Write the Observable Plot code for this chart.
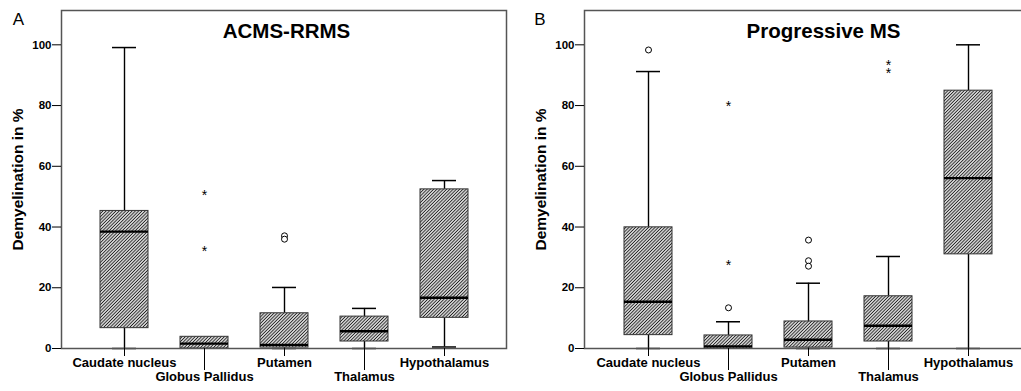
<!DOCTYPE html>
<html>
<head>
<meta charset="utf-8">
<script src="https://cdn.jsdelivr.net/npm/d3@7"></script>
<script src="https://cdn.jsdelivr.net/npm/@observablehq/plot@0.6"></script>
<style>
  html, body { margin: 0; padding: 0; background: #fff; }
  body { width: 1021px; height: 391px; overflow: hidden; position: relative; font-family: "Liberation Sans", Arial, sans-serif; }
  .panel { position: absolute; top: 0; }
  .panel svg { display: block; max-width: none !important; }
</style>
</head>
<body>
<div id="pa" class="panel" style="left:0px;width:510px"></div>
<div id="pb" class="panel" style="left:510px;width:530px"></div>
<script>
const categories = ["Caudate nucleus", "Globus Pallidus", "Putamen", "Thalamus", "Hypothalamus"];
const yTicks = [0, 20, 40, 60, 80, 100];

// Panel A: ACMS-RRMS
const aMin    = [0,    0,    0,    0,    0.5];
const aQ1     = [6.7,  0,    0.3,  2.3,  10.1];
const aMedian = [38.5, 1.6,  1.2,  5.7,  16.7];
const aQ3     = [45.3, 3.85, 11.6, 10.5, 52.4];
const aMax    = [99.1, 3.85, 20.1, 13.2, 55.3];
const aCircleCat = ["Putamen", "Putamen"];
const aCircleVal = [37.1, 36.0];
const aStarCat = ["Globus Pallidus", "Globus Pallidus"];
const aStarVal = [51.5, 33.0];

// Panel B: Progressive MS
const bMin    = [0,    0,   0,    0,    0];
const bQ1     = [4.4,  0,   0.3,  2.3,  31.0];
const bMedian = [15.4, 0.7, 2.9,  7.5,  56.1];
const bQ3     = [39.9, 4.3, 8.9,  17.2, 84.9];
const bMax    = [91.2, 8.8, 21.5, 30.3, 100];
const bCircleCat = ["Caudate nucleus", "Globus Pallidus", "Putamen", "Putamen", "Putamen"];
const bCircleVal = [98.3, 13.4, 35.7, 28.9, 27.1];
const bStarCat = ["Globus Pallidus", "Globus Pallidus", "Thalamus", "Thalamus"];
const bStarVal = [80.7, 28.6, 94.2, 91.8];

const FONT = "Liberation Sans, Arial, sans-serif";

function makePanel(cfg) {
  const boxes = categories.map((c, i) => ({
    cat: c, min: cfg.min[i], q1: cfg.q1[i], median: cfg.median[i], q3: cfg.q3[i], max: cfg.max[i]
  }));
  const circles = cfg.circleCat.map((c, i) => ({cat: c, v: cfg.circleVal[i]}));
  const stars = cfg.starCat.map((c, i) => ({cat: c, v: cfg.starVal[i]}));
  const hatchId = cfg.hatchId;

  const svg = Plot.plot({
    width: cfg.width,
    height: 391,
    marginTop: 10,
    marginBottom: 43,
    marginLeft: cfg.marginLeft,
    marginRight: cfg.marginRight,
    style: {fontFamily: FONT, background: "white", color: "black", overflow: "visible"},
    x: {type: "band", domain: categories, paddingInner: 0.4, paddingOuter: 0.47, axis: null},
    y: {domain: [0, 111.3], axis: null},
    marks: [
      // whiskers
      Plot.ruleX(boxes, {x: "cat", y1: "q3", y2: "max", stroke: "black", strokeWidth: 1.4}),
      Plot.ruleX(boxes, {x: "cat", y1: "min", y2: "q1", stroke: "black", strokeWidth: 1.4}),
      Plot.tickY(boxes.filter(d => d.max > d.q3), {x: "cat", y: "max", insetLeft: 12, insetRight: 12, stroke: "black", strokeWidth: 1.5}),
      Plot.tickY(boxes.filter(d => d.min < d.q1), {x: "cat", y: "min", insetLeft: 12, insetRight: 12, stroke: "black", strokeWidth: 1.5}),
      // boxes
      Plot.barY(boxes, {x: "cat", y1: "q1", y2: "q3", fill: `url(#${hatchId})`, stroke: "#333", strokeWidth: 1}),
      Plot.tickY(boxes, {x: "cat", y: "median", stroke: "black", strokeWidth: 2.4}),
      // outliers
      Plot.dot(circles, {x: "cat", y: "v", r: 3, stroke: "black", strokeWidth: 1, fill: "white"}),
      Plot.text(stars, {x: "cat", y: "v", text: () => "*", fontSize: 14, lineAnchor: "top", dy: -2, fill: "black"}),
      // frame and axes
      Plot.frame({stroke: "#555", strokeWidth: 1.5}),
      Plot.axisY({ticks: yTicks, tickSize: 9, tickPadding: 1, fontSize: 11.5, fontWeight: "bold", label: null, stroke: "black"}),
      Plot.axisX({ticks: [categories[0], categories[2], categories[4]], tickSize: 8, tickPadding: 1.5, fontSize: 13, fontWeight: "bold", label: null, stroke: "black"}),
      Plot.axisX({ticks: [categories[1], categories[3]], tickSize: 22, tickPadding: 1, fontSize: 13, fontWeight: "bold", label: null, stroke: "black"}),
      // y label
      Plot.text(["Demyelination in %"], {frameAnchor: "left", dx: -43, rotate: -90, fontSize: 15.5, fontWeight: "bold", textAnchor: "middle", lineAnchor: "middle", fill: "black"}),
      // panel letter
      Plot.text([cfg.letter], {frameAnchor: "top-left", dx: cfg.letterDx, dy: 9, fontSize: 17, textAnchor: "middle", lineAnchor: "middle", fill: "black"}),
      // title
      Plot.text([cfg.title], {frameAnchor: "top", dx: cfg.titleDx, dy: 20.5, fontSize: 20.5, fontWeight: "bold", textAnchor: "middle", lineAnchor: "middle", fill: "black"})
    ]
  });

  const s = d3.select(svg);
  const defs = s.insert("defs", ":first-child");
  const P = 2.3;
  const pat = defs.append("pattern")
    .attr("id", hatchId)
    .attr("patternUnits", "userSpaceOnUse")
    .attr("width", P)
    .attr("height", P)
    .attr("patternTransform", "rotate(45)");
  pat.append("rect").attr("width", P).attr("height", P).attr("fill", "white");
  pat.append("line").attr("x1", P / 2).attr("y1", 0).attr("x2", P / 2).attr("y2", P)
    .attr("stroke", "#222").attr("stroke-width", 1.1);
  return svg;
}

document.getElementById("pa").appendChild(makePanel({
  width: 510, marginLeft: 61, marginRight: 4, hatchId: "hatchA",
  min: aMin, q1: aQ1, median: aMedian, q3: aQ3, max: aMax,
  circleCat: aCircleCat, circleVal: aCircleVal, starCat: aStarCat, starVal: aStarVal,
  letter: "A", letterDx: -43, title: "ACMS-RRMS", titleDx: 2.5
}));
document.getElementById("pb").appendChild(makePanel({
  width: 530, marginLeft: 74, marginRight: 9, hatchId: "hatchB",
  min: bMin, q1: bQ1, median: bMedian, q3: bQ3, max: bMax,
  circleCat: bCircleCat, circleVal: bCircleVal, starCat: bStarCat, starVal: bStarVal,
  letter: "B", letterDx: -44.5, title: "Progressive MS", titleDx: 15.5
}));
</script>
</body>
</html>
